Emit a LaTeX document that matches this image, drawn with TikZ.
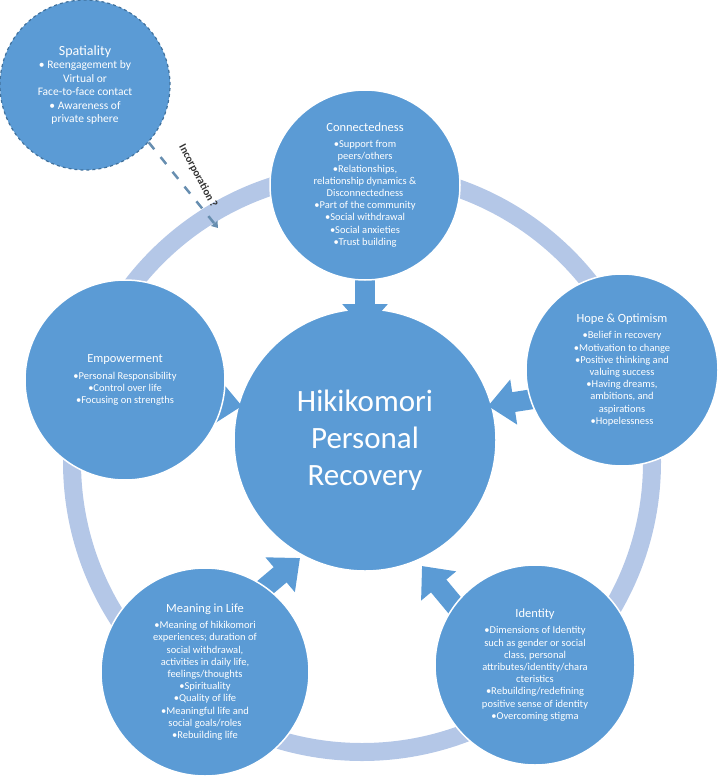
\documentclass[tikz,border=0pt]{standalone}
\usepackage{fontspec}
\setmainfont{Carlito}
\usetikzlibrary{arrows.meta}
\definecolor{bub}{HTML}{5B9BD5}
\definecolor{ringc}{HTML}{B4C7E7}
\definecolor{dashc}{HTML}{41719C}
\tikzset{
 bubble/.style={circle,fill=bub,draw=white,line width=1.5pt,text=white,align=center,font=\fontsize{10.5}{12.2}\selectfont,inner sep=0pt},
 ttl/.style={font=\fontsize{12.5}{15}\selectfont},
}
\newcommand{\ttlx}[1]{{\fontsize{12.5}{15}\selectfont #1}}
\begin{document}
\begin{tikzpicture}[x=1pt,y=-1pt]
\useasboundingbox (0,0) rectangle (720,776);
\draw[ringc,line width=18pt] (362,462) circle (290);
\node[bubble,minimum size=262pt,font=\fontsize{31}{37}\selectfont] (c) at (365,440) {Hikikomori\\Personal\\Recovery};
\foreach \a/\b in {{(365,262)}/{(365,330)},{(540,398)}/{(488,406)},{(190,398)}/{(242,406)},{(255,596)}/{(300,558)},{(462,614)}/{(422,566)}}{
  \draw[bub,line width=20pt,-{Triangle[width=44pt,length=26pt]}] \a -- \b;
}
\node[bubble,minimum size=190pt] (con) at (365,185) {\ttlx{Connectedness}\\[4pt]
•Support from\\peers/others\\•Relationships,\\relationship dynamics \&\\Disconnectedness\\•Part of the community\\•Social withdrawal\\•Social anxieties\\•Trust building};
\node[bubble,minimum size=192pt] (hope) at (622,370) {\ttlx{Hope \& Optimism}\\[4pt]
•Belief in recovery\\•Motivation to change\\•Positive thinking and\\valuing success\\•Having dreams,\\ambitions, and\\aspirations\\•Hopelessness};
\node[bubble,minimum size=200pt] (emp) at (125,380) {\ttlx{Empowerment}\\[4pt]
•Personal Responsibility\\•Control over life\\•Focusing on strengths};
\node[bubble,minimum size=208pt] (mean) at (205,672) {\ttlx{Meaning in Life}\\[4pt]
•Meaning of hikikomori\\experiences; duration of\\social withdrawal,\\activities in daily life,\\feelings/thoughts\\•Spirituality\\•Quality of life\\•Meaningful life and\\social goals/roles\\•Rebuilding life};
\node[bubble,minimum size=200pt] (ide) at (535,665) {\ttlx{Identity}\\[4pt]
•Dimensions of Identity\\such as gender or social\\class, personal\\attributes/identity/chara\\cteristics\\•Rebuilding/redefining\\positive sense of identity\\•Overcoming stigma};
\node[bubble,minimum size=170pt,draw=dashc,dashed,line width=1.2pt,font=\fontsize{11.5}{13.5}\selectfont] (spa) at (85,85) {{\fontsize{14}{17}\selectfont Spatiality}\\
• Reengagement by\\Virtual or\\Face-to-face contact\\• Awareness of\\private sphere};
\coordinate (inc) at (218,228);
\draw[dashc!80,line width=2.5pt,dash pattern=on 9pt off 10pt,-{Triangle[width=8pt,length=6pt]}] (spa.-42) -- (inc);
\node[rotate=-62,font=\fontsize{11}{13}\selectfont\bfseries,text=black!80] (lab) at (198,176) {Incorporation ?};
\end{tikzpicture}
\end{document}
